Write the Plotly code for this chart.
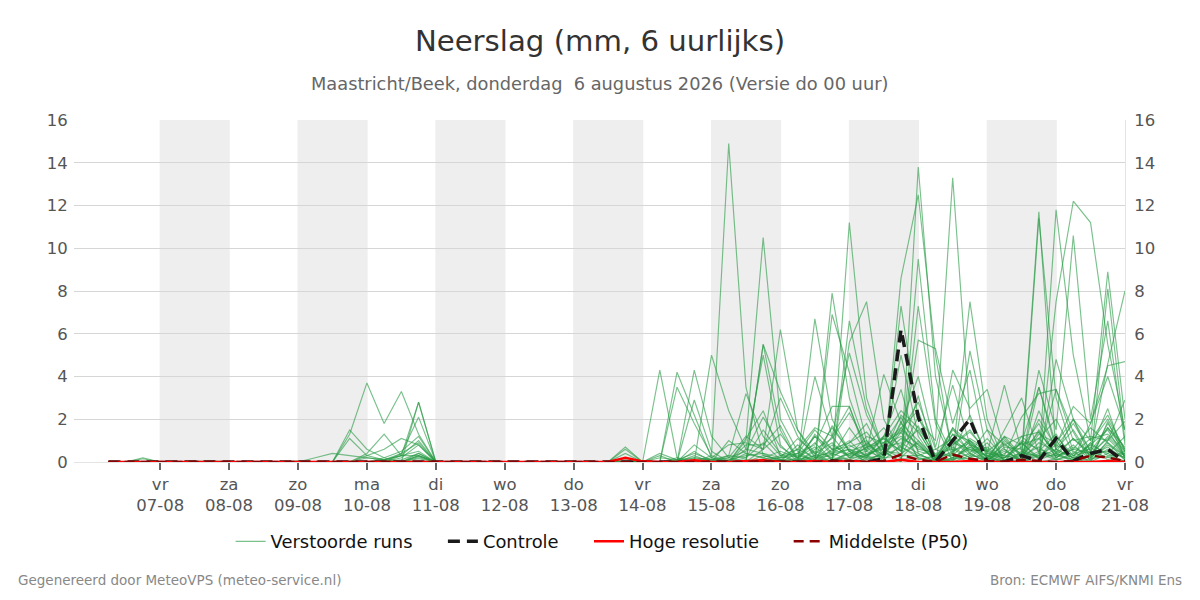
import plotly.graph_objects as go
import pandas as pd

times = pd.date_range("2026-08-06 06:00", periods=60, freq="6h")
tick_dates = pd.date_range("2026-08-07", "2026-08-21", freq="D")
weekdays = ["vr","za","zo","ma","di","wo","do","vr","za","zo","ma","di","wo","do","vr"]
tick_labels = [f"{w}<br>{d.strftime('%d-%m')}" for w, d in zip(weekdays, tick_dates)]
shade_starts = ["2026-08-06 23:50","2026-08-08 23:50","2026-08-10 23:50","2026-08-12 23:50","2026-08-14 23:50","2026-08-16 23:50","2026-08-18 23:50"]
shade_ends   = ["2026-08-08 00:15","2026-08-10 00:15","2026-08-12 00:15","2026-08-14 00:15","2026-08-16 00:15","2026-08-18 00:15","2026-08-20 00:15"]

# Ensemble members: {6-hourly step: mm}; absent steps are dry
runs = [
 {2:.2,14:1.3,15:3.7,16:1.8,17:3.3,18:1.3,30:.7,32:4.3,33:.2,36:1.0,37:.4,38:.2,41:6.7,42:2,43:.5,46:8.6,47:12.5,48:5,49:.3,52:1,53:.3,54:11.7,55:.4,56:2,57:1,58:8.9,59:2},
 {2:.15,14:1.5,15:.6,16:.2,18:.3,30:.6,33:3.5,34:1.8,35:.3,36:14.9,37:3.5,38:.3,39:.1,43:11.2,44:3,45:.5,47:13.8,48:4,49:.5,50:1,51:.2,55:11.8,56:5,57:1,58:2.2,59:.5},
 {5:.05,14:1.1,15:.3,16:.1,17:.3,18:2.8,30:.4,33:4.2,34:2.2,35:.2,37:1,38:10.5,39:2,40:.5,42:7.9,43:3,44:.7,46:7.3,47:2,48:1,49:13.3,50:2,51:.3,54:11.4,55:3,56:.5,58:8.1,59:1},
 {6:.05,12:.2,13:.4,14:.3,15:.2,16:.1,18:2.8,34:4.3,35:1.2,36:.2,38:5.5,39:1.5,42:6.9,43:4.2,44:1,47:9.5,48:2,49:.3,50:7.5,51:2,55:7.5,56:12.2,57:11.2,58:5.5,59:1.5},
 {11:.05,15:.4,16:1.3,17:.3,18:.3,32:.3,34:2.9,35:.5,38:5.5,39:3.3,40:1.5,41:.4,43:6.6,44:2.5,45:.5,47:7.3,48:1.8,50:5.2,51:1.5,54:4.3,55:1.5,56:10.6,57:2,58:6.6,59:.8},
 {15:.3,16:.6,17:1.1,18:.8,34:.8,35:.2,36:.8,37:.9,38:.6,39:6.2,40:1.5,41:.2,43:5.6,44:7.5,45:2,46:.5,47:5.7,48:5.3,49:1.8,50:4.3,51:.4,52:3.6,53:.5,55:4.8,56:2,57:.5,58:4.6,59:8.0},
 {15:.2,16:.1,17:.4,18:2.1,33:.2,35:5.0,36:2.4,37:.6,38:5.0,39:.8,41:4,42:1.2,43:5.1,44:2.2,45:.6,46:5.0,47:1.2,49:4.3,50:2.5,51:3.4,52:.6,54:3.5,55:.8,56:2.6,57:1.8,58:4.5,59:4.7},
 {16:.2,17:.5,18:1.2,32:.4,33:.1,34:.2,35:.1,36:.3,37:3.2,38:1.2,39:.3,40:.6,41:1.6,42:1.2,43:2.6,44:.5,45:4.1,46:1.8,47:4,48:.7,49:3.6,50:.8,52:1.5,53:3,54:.4,55:3.4,56:1.4,58:1,59:2.9},
 {16:.1,17:.3,18:1.0,33:.1,34:.4,35:.1,37:1.1,38:2.4,39:.3,40:.4,41:.8,42:2.6,43:2.6,44:.3,45:.8,46:1.5,47:.8,48:.1,49:1.5,50:.8,51:.5,52:.3,53:2.1,54:3.2,55:3.4,56:1,57:1.2,58:1,59:1.9},
 {17:.4,18:.9,34:.5,36:.2,37:1.2,38:.6,39:3.0,40:1.2,41:.3,42:1.6,43:.5,44:.8,45:1.6,46:.7,47:.3,48:.6,49:1.1,50:.4,51:1.5,52:.8,53:.4,54:1.4,55:.4,56:1.1,57:.3,58:1.2,59:.4},
 {17:.2,18:.8,34:.2,35:.1,36:.2,37:.5,38:2.1,39:.7,40:.2,41:1.2,42:.6,43:.9,44:1.4,45:.4,46:2.2,47:1.4,48:.2,49:1.3,50:1.0,51:.2,52:1.2,53:.8,54:1.1,55:.3,56:.6,57:1.6,58:.9,59:.3},
 {17:.3,18:.5,35:.1,37:.8,38:.8,39:1.7,40:.1,41:1.2,42:.3,43:1.6,44:.5,45:1.1,46:.5,47:2.1,48:.3,49:.8,50:1.5,51:.4,52:.2,53:.9,54:.2,55:1.2,56:.3,57:.8,58:1.5,59:.2},
 {17:.1,18:.4,34:.3,36:.1,37:.3,38:.4,39:.2,40:1.1,41:.4,42:.9,43:.2,44:.7,45:.9,46:1.6,47:.8,48:.1,49:.8,50:1.4,51:.5,52:1.1,53:.2,54:1.3,55:.9,56:2,57:.2,58:1.8,59:.6},
 {18:.4,32:.2,33:.1,35:.2,37:.2,38:.9,39:.1,40:.6,41:.2,42:.5,43:1,44:.2,45:.9,46:2.1,47:.5,48:.3,49:.4,50:2.2,51:.2,52:.8,53:1.2,54:.5,55:1.3,56:.1,57:.8,58:.4,59:1.2},
 {18:.3,34:.15,37:.4,38:.2,39:.5,40:.2,41:.7,42:.1,43:.4,44:.6,45:1.2,46:.3,47:1.7,48:.2,49:1,50:.3,51:1.1,52:.2,53:.7,54:1.8,55:.2,56:.6,57:.4,58:1.1,59:.3},
 {18:.25,36:.1,38:.3,39:.1,40:.1,41:.3,42:.4,43:.1,44:.9,45:.3,46:1.4,47:.2,48:.1,49:.5,50:.9,51:.1,52:.5,53:.1,54:.9,55:.5,56:.2,57:.3,58:.7,59:.1},
 {18:.2,37:.1,39:.3,41:.5,42:.2,43:.8,44:.3,45:.7,46:.9,47:.4,49:.2,50:.6,51:.3,52:.2,53:.4,54:.3,55:.8,56:.3,58:1.9,59:.2},
 {18:.15,38:.15,39:.2,40:.3,41:.1,42:.8,43:.3,44:.5,45:.2,46:1.9,47:.1,48:.3,49:.3,50:1.1,51:.6,52:.1,53:.3,54:.7,55:.1,56:.4,57:.6,58:2.5,59:.1},
 {38:.1,40:.2,41:.9,42:.1,43:.2,44:.7,45:1.1,46:.5,47:3.1,48:.1,49:.1,50:.4,52:.4,53:.9,54:.1,55:.4,56:.1,57:.9,58:.3,59:.4},
 {39:.1,41:.2,42:.3,43:.6,44:.1,45:.4,46:1.1,47:.7,48:.2,49:.7,50:.2,51:.4,52:.3,53:.1,54:.5,55:.2,56:.8,57:.1,58:.6,59:.2},
 {40:.1,42:.2,43:.1,44:.4,45:.6,46:.2,47:1,49:.4,50:.1,51:.2,53:.5,54:.2,55:.6,56:.2,57:.2,58:.9,59:.1},
 {41:.1,43:.4,44:.2,45:.3,46:.7,47:.2,49:.2,50:.7,51:.1,52:.6,54:.4,55:.1,56:.3,57:.5,58:.2,59:.5},
 {42:.4,43:.6,44:.3,45:1.2,46:2.4,47:1.6,48:.3,50:1.0,51:.5,53:1.2,54:1.4,55:.4,57:.9,58:2,59:.6},
 {41:.6,42:1.1,43:2.3,44:.8,45:.3,46:1.8,47:1,48:.2,49:1.6,50:.4,52:.2,53:.9,54:3.5,55:.6,56:.2,57:1.8,58:4,59:1.5},
 {40:.4,41:1.5,42:.6,43:.3,44:1.2,45:.9,46:1.4,47:2.8,48:.6,49:.2,50:.7,51:.3,53:.4,54:2,55:.7,56:1.8,57:.5,58:1.6,59:.5},
 {30:.1,38:.6,39:1.3,40:.2,42:1.7,43:.5,44:.2,45:1.2,46:3.4,47:.4,49:1.6,50:.9,51:.2,52:1.2,53:.3,54:1.1,55:2,56:.4,57:1.1,58:1.3,59:.5},
 {36:.3,37:.2,38:1.5,39:.4,41:1.3,42:.4,43:.9,44:1.8,45:.2,46:1.6,47:2.4,48:.1,49:.9,50:.6,52:.9,54:2.4,55:.6,56:1.5,57:.2,58:.8,59:.3},
 {33:.1,35:.3,37:.6,38:.4,40:.8,41:.1,42:1.2,43:.2,44:.3,45:.8,46:1.2,47:.6,48:.4,49:.6,50:.2,51:.9,53:1,54:.6,55:.3,56:1.1,57:.4,58:.5,59:.2},
 {39:.2,40:.4,42:.6,43:.7,44:1,45:.1,46:.8,47:1.5,49:1.3,50:.5,51:.7,52:.1,53:.2,54:1.5,55:.2,56:.7,57:.3,58:1.6,59:.7},
 {41:.3,43:.5,45:.5,46:.4,47:.9,49:.1,50:.8,52:.7,53:.6,54:.2,55:1,57:.7,58:.1,59:.4},
 {44:.15,45:.2,46:.3,47:.3,48:.15,50:.3,51:.2,54:.3,55:.3,56:.1,58:.4},
 {42:.1,44:.3,46:.15,47:.15,49:.15,50:.15,53:.1,55:.15,57:.15,58:.25,59:.05},
]

controle = [0]*60
for _i, _v in {42:.05,45:.15,46:6.2,47:2.1,48:0,49:1.0,50:2.0,51:0,52:0,53:.3,54:.05,55:1.1,56:.05,57:.4,58:.6,59:0}.items():
    controle[_i] = _v
hoge = [0]*60
for _i, _v in {30:.2,31:.03,34:.08,37:.05,38:.08,41:.05,43:.05,46:.1,50:.05,58:.05}.items():
    hoge[_i] = _v
p50 = [0]*60
for _i, _v in {38:.05,42:.05,43:.05,45:.05,46:.35,47:.1,49:.35,50:.15,51:.05,53:.1,54:.05,56:.05,57:.3,58:.2,59:.05}.items():
    p50[_i] = _v

fig = go.Figure()
for n, run in enumerate(runs):
    fig.add_trace(go.Scatter(x=times, y=[run.get(i, 0) for i in range(60)], mode="lines",
        line=dict(color="rgba(40,155,70,0.62)", width=1.15), name="Verstoorde runs", legend="legend",
        legendgroup="runs", showlegend=n == 0, hoverinfo="skip"))
fig.add_trace(go.Scatter(x=times, y=controle, mode="lines", name="Controle", legend="legend2",
    line=dict(color="#1a1a1a", width=3.5, dash="12px,7px")))
fig.add_trace(go.Scatter(x=times, y=hoge, mode="lines", name="Hoge resolutie", legend="legend3",
    line=dict(color="#ff0000", width=2.5)))
fig.add_trace(go.Scatter(x=times, y=p50, mode="lines", name="Middelste (P50)", yaxis="y2", legend="legend4",
    line=dict(color="#8b0000", width=2.5, dash="10px,6px")))

shapes = [dict(type="rect", xref="x", yref="paper", x0=a, x1=b, y0=0, y1=1,
               fillcolor="#eeeeee", line_width=0, layer="below")
          for a, b in zip(shade_starts, shade_ends)]

tick = dict(color="#555555", size=16.5)

def leg(x):
    return dict(orientation="h", x=x, xanchor="left", y=-0.233, yanchor="middle",
                font=dict(size=17.9, color="#111111"), bgcolor="rgba(0,0,0,0)")

fig.update_layout(
    width=1200, height=600, autosize=False,
    margin=dict(l=74, r=75, t=120, b=138),
    font=dict(family="DejaVu Sans"),
    paper_bgcolor="white", plot_bgcolor="rgba(0,0,0,0)",
    title=dict(text="Neerslag (mm, 6 uurlijks)", x=0.5, xanchor="center", y=0.932, yanchor="middle",
               font=dict(size=29.2, color="#333333")),
    xaxis=dict(range=["2026-08-05 18:00", "2026-08-21 00:00"], tickvals=tick_dates, ticktext=tick_labels,
               tickfont=tick, ticks="outside", ticklen=7, tickwidth=2, tickcolor="#666666",
               showgrid=False, zeroline=False, showline=True, linecolor="#e4e4e4", linewidth=1),
    yaxis=dict(range=[0, 16], tickvals=list(range(0, 17, 2)), tickfont=tick, gridcolor="#d6d6d6", gridwidth=1.3,
               zeroline=False, ticks="outside", ticklen=2, tickcolor="rgba(0,0,0,0)", showline=False),
    yaxis2=dict(range=[0, 16], tickvals=list(range(0, 17, 2)), tickfont=tick, overlaying="y", side="right",
                showgrid=False, zeroline=False, showline=True, linecolor="#e4e4e4", linewidth=1,
                ticks="outside", ticklen=5, tickcolor="rgba(0,0,0,0)"),
    shapes=shapes,
    showlegend=True,
    legend=leg(0.149), legend2=leg(0.351), legend3=leg(0.490), legend4=leg(0.680),
    annotations=[
        dict(text="Maastricht/Beek, donderdag  6 augustus 2026 (Versie do 00 uur)", xref="paper", yref="paper",
             x=0.5, y=1.106, yanchor="middle", xanchor="center", showarrow=False, font=dict(size=17.8, color="#666666")),
        dict(text="Gegenereerd door MeteoVPS (meteo-service.nl)", xref="paper", yref="paper", x=-0.0552, y=-0.346,
             xanchor="left", yanchor="middle", showarrow=False, font=dict(size=13.5, color="#888888")),
        dict(text="Bron: ECMWF AIFS/KNMI Ens", xref="paper", yref="paper", x=1.0563, y=-0.346,
             xanchor="right", yanchor="middle", showarrow=False, font=dict(size=13.5, color="#888888")),
    ],
)
fig.write_html("out.html", config={"displayModeBar": False}, post_script="document.body.style.margin='0';")
